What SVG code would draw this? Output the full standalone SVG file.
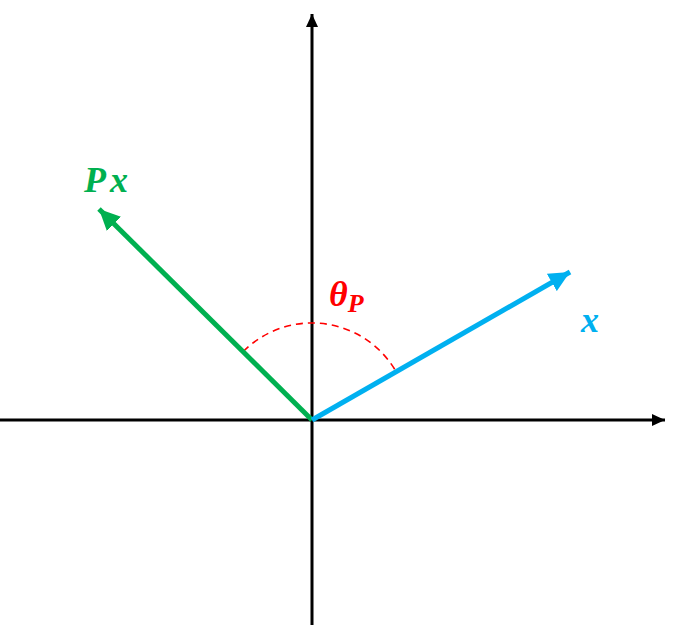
<svg xmlns="http://www.w3.org/2000/svg" width="678" height="626" viewBox="0 0 678 626">
<style>
.axis{stroke:#000;stroke-width:3;fill:none}
.vec{stroke-width:5;fill:none}
.lbl{font-family:"Liberation Serif","DejaVu Serif",serif;font-weight:bold;font-style:italic}
</style>
<defs>
<marker id="ah" markerUnits="userSpaceOnUse" markerWidth="14" markerHeight="12" refX="13" refY="6" orient="auto"><path d="M0,0 L13,6 L0,12 Z" fill="#000"/></marker>
<marker id="ag" markerUnits="userSpaceOnUse" markerWidth="22" markerHeight="20" refX="21" refY="10" orient="auto"><path d="M0,0 L21,10 L0,20 Z" fill="#00B050"/></marker>
<marker id="ab" markerUnits="userSpaceOnUse" markerWidth="22" markerHeight="20" refX="21" refY="10" orient="auto"><path d="M0,0 L21,10 L0,20 Z" fill="#00B0F0"/></marker>
</defs>
<rect width="678" height="626" fill="#fff"/>
<g id="connectors">
<line id="y-axis" class="axis" x1="312" y1="625" x2="312" y2="14" marker-end="url(#ah)"/>
<line id="x-axis" class="axis" x1="0" y1="420" x2="665" y2="420" marker-end="url(#ah)"/>
<path id="angle-arc" d="M243.4,351.4 A97,97 0 0 1 396.2,371.8" fill="none" stroke="#FF0000" stroke-width="1.6" stroke-dasharray="7,5"/>
<line id="vec-Px" class="vec" stroke="#00B050" x1="312" y1="420" x2="99" y2="209" marker-end="url(#ag)"/>
<line id="vec-x" class="vec" stroke="#00B0F0" x1="312" y1="420" x2="570" y2="272" marker-end="url(#ab)"/>
</g>
<g id="label-Px"><text class="lbl" x="84" y="192" font-size="36" letter-spacing="4" fill="#00B050">Px</text></g>
<g id="label-x"><text class="lbl" x="581" y="332" font-size="36" fill="#00B0F0">x</text></g>
<g id="label-theta"><text class="lbl" x="329" y="306" font-size="36" fill="#FF0000">θ<tspan font-size="26" dy="6">P</tspan></text></g>
</svg>
